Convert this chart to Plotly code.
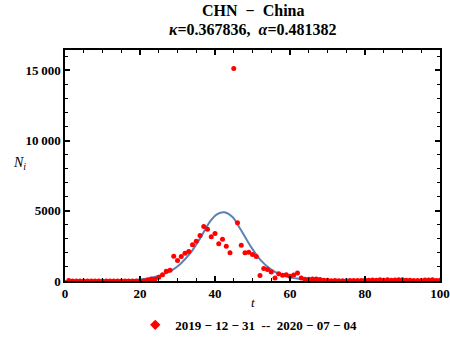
import plotly.graph_objects as go

SERIF = "Liberation Serif"
POINT_COLOR = "#FF0000"
CURVE_COLOR = "#5E81B5"

# daily new cases N_i, t = 1 is 2019-12-31
days = list(range(1, 101))
cases = (
    [27] + [0] * 19
    + [0, 77, 149, 131, 259, 444, 688, 769, 1771, 1459,
       1737, 1982, 2102, 2590, 2829, 3235, 3887, 3694, 3143, 3385,
       2652, 2973, 2467, 2015, 15141, 4156, 2538, 2007, 2052, 1890,
       1750, 394, 891, 826, 647, 218, 515, 410, 439, 331,
       433, 578, 206, 130, 120, 143, 146, 102, 46, 45,
       20, 29, 25, 26, 10, 30, 27, 34, 39, 58,
       48, 79, 62, 94, 55, 96, 59, 67, 86, 88,
       56, 55, 36, 35, 34, 63, 66, 90, 36, 48]
)

# fitted model curve
curve_t = [0, 5, 10, 14, 17, 20, 22.7, 25.4, 28.1, 30.7, 33.4, 36.1, 38.8,
           40.6, 42.5, 44.6, 46.8, 49.5, 52.1, 54.8, 57.5, 60.2, 62.8, 66,
           70, 75, 80, 90, 100]
curve_n = [0, 2, 8, 25, 55, 115, 215, 400, 700, 1200, 1980, 3070, 4280,
           4770, 4890, 4570, 3680, 2470, 1500, 850, 460, 240, 145, 75,
           32, 12, 5, 1, 0]

legend_label = "<b>2019 \u2212 12 \u2212 31  --  2020 \u2212 07 \u2212 04</b>"

fig = go.Figure()

fig.add_trace(
    go.Scatter(
        x=curve_t,
        y=curve_n,
        mode="lines",
        line=dict(color=CURVE_COLOR, width=2, shape="spline", smoothing=1.0),
        showlegend=False,
        hoverinfo="skip",
    )
)

fig.add_trace(
    go.Scatter(
        x=days,
        y=cases,
        mode="markers",
        marker=dict(size=5, color=POINT_COLOR),
        showlegend=False,
    )
)

# legend entry only
fig.add_trace(
    go.Scatter(
        x=[None],
        y=[None],
        mode="markers",
        name=legend_label,
        marker=dict(size=8, color=POINT_COLOR, symbol="diamond"),
    )
)

axis_common = dict(
    showgrid=False,
    zeroline=False,
    showline=True,
    linecolor="black",
    linewidth=1.5,
    mirror="ticks",
    ticks="inside",
    tickcolor="black",
    tickwidth=1.5,
    ticklen=5,
    automargin=False,
    tickfont=dict(family=SERIF, size=13, color="black", weight="bold"),
)

fig.update_layout(
    width=450,
    height=338,
    margin=dict(l=65, r=10, t=50, b=57, autoexpand=False),
    paper_bgcolor="white",
    plot_bgcolor="white",
    font=dict(family=SERIF, color="black"),
    xaxis=dict(
        range=[0, 100],
        tickvals=[0, 20, 40, 60, 80, 100],
        minor=dict(ticks="inside", dtick=5, ticklen=3, tickcolor="black", tickwidth=1),
        **axis_common,
    ),
    yaxis=dict(
        range=[0, 16450],
        tickvals=[0, 5000, 10000, 15000],
        ticktext=["0", "5000", "10\u2009000", "15\u2009000"],
        minor=dict(ticks="inside", dtick=1000, ticklen=3, tickcolor="black", tickwidth=1),
        **axis_common,
    ),
    showlegend=True,
    legend=dict(
        orientation="h",
        x=0.49,
        xanchor="center",
        y=-0.125,
        yanchor="top",
        font=dict(family=SERIF, size=13, color="black"),
        itemwidth=30,
    ),
    annotations=[
        dict(
            text="<b>CHN  \u2212  China</b>",
            x=0.5, y=1.0, xref="paper", yref="paper",
            xanchor="center", yanchor="bottom", yshift=29,
            showarrow=False, font=dict(family=SERIF, size=16, color="black"),
        ),
        dict(
            text="<b><i>\u03ba</i>=0.367836,  <i>\u03b1</i>=0.481382</b>",
            x=0.5, y=1.0, xref="paper", yref="paper",
            xanchor="center", yanchor="bottom", yshift=10,
            showarrow=False, font=dict(family=SERIF, size=16, color="black"),
        ),
        dict(
            text="<i>t</i>",
            x=0.5, y=0, xref="paper", yref="paper",
            xanchor="center", yanchor="top", yshift=-12,
            showarrow=False, font=dict(family=SERIF, size=13, color="black"),
        ),
        dict(
            text="<i>N<sub>i</sub></i>",
            x=0, y=0.51, xref="paper", yref="paper",
            xanchor="right", yanchor="middle", xshift=-37,
            showarrow=False, font=dict(family=SERIF, size=14, color="black"),
        ),
    ],
)

fig.write_html(
    "out.html",
    config={"displayModeBar": False},
    post_script="document.body.style.margin = '0';",
)
